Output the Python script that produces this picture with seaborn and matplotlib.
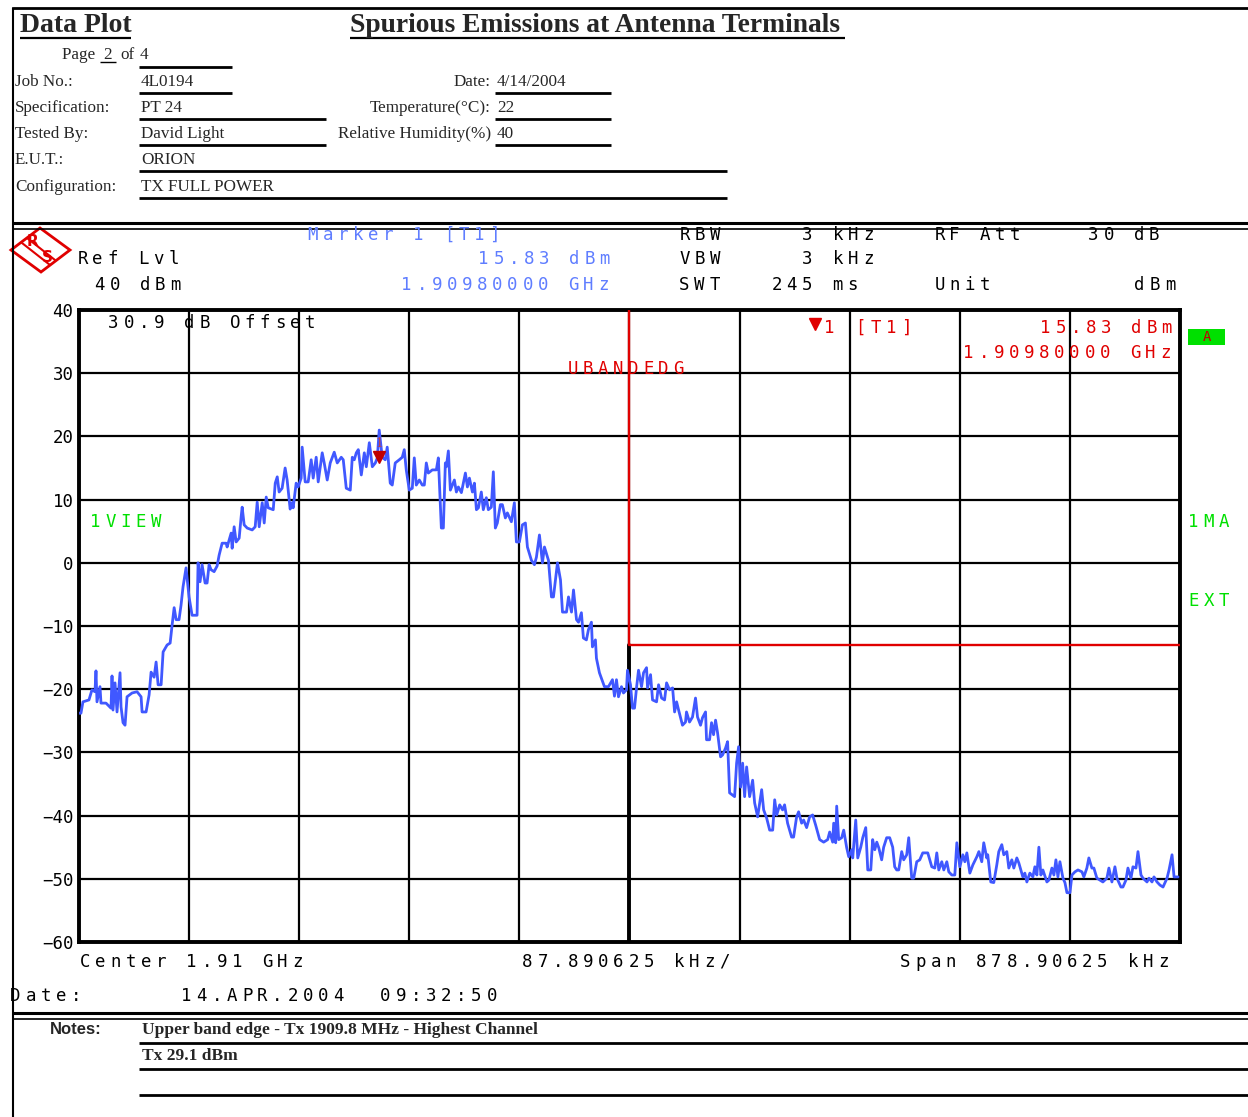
import matplotlib
matplotlib.use("Agg")
import matplotlib.pyplot as plt
import matplotlib.transforms as mtransforms
from matplotlib.patches import Polygon, Rectangle
import seaborn as sns

# ── data ─────────────────────────────────────────────────────────────────────
CENTER_GHZ = 1.91
SPAN_KHZ = 878.90625
REF_LVL_DBM = 40
LIMIT_DBM = -13            # FCC -13 dBm line, starts at the band edge
BAND_EDGE_KHZ = 0.0        # band edge = center frequency
MARKER_KHZ = -200.0        # 1.9098 GHz
MARKER_DBM = 15.83

y_ticks = [40, 30, 20, 10, 0, -10, -20, -30, -40, -50, -60]

freq_khz = [
    -439.5, -437.9, -436.3, -431.5, -429.1, -426.7, -425.9, -425.1, -422.7, -421.9,
    -417.9, -413.9, -413.1, -412.3, -410.7, -409.1, -406.7, -405.9, -404.3, -402.7,
    -401.1, -397.1, -393.1, -389.9, -389.1, -385.9, -383.5, -381.9, -379.5, -377.9,
    -376.3, -373.9, -372.3, -369.1, -366.7, -365.1, -363.5, -361.9, -359.6, -358.0,
    -356.4, -354.0, -351.6, -349.2, -345.2, -344.4, -342.8, -341.2, -338.8, -337.2,
    -335.6, -334.0, -331.6, -329.2, -327.6, -325.2, -322.0, -321.2, -318.0, -317.2,
    -315.6, -314.0, -311.6, -310.0, -309.2, -307.6, -305.2, -301.2, -298.8, -297.2,
    -295.6, -293.2, -291.6, -290.0, -288.4, -284.4, -282.8, -281.2, -279.7, -277.3,
    -274.9, -273.3, -270.9, -269.3, -268.5, -266.1, -264.5, -262.1, -261.3, -258.9,
    -256.5, -254.1, -252.5, -250.1, -248.5, -245.3, -243.7, -241.3, -238.9, -235.7,
    -233.3, -230.1, -228.5, -226.1, -222.9, -221.3, -219.7, -218.1, -216.5, -214.1,
    -211.7, -210.1, -207.7, -205.3, -202.9, -201.3, -199.8, -197.4, -195.0, -193.4,
    -191.0, -189.4, -187.0, -183.8, -181.4, -179.8, -178.2, -175.8, -173.4, -171.8,
    -170.2, -167.8, -165.4, -163.8, -162.2, -160.6, -157.4, -154.2, -152.6, -150.2,
    -148.6, -147.0, -146.2, -144.6, -143.0, -139.8, -138.2, -136.6, -134.2, -131.0,
    -129.4, -127.8, -125.4, -123.8, -122.2, -120.6, -118.3, -116.7, -114.3, -112.7,
    -110.3, -108.7, -107.1, -105.5, -103.1, -101.5, -99.1, -97.5, -94.3, -91.9,
    -90.3, -87.9, -85.5, -83.1, -81.5, -78.3, -75.9, -74.3, -71.9, -69.5,
    -67.9, -64.7, -62.3, -60.7, -57.5, -55.1, -53.5, -50.3, -48.7, -46.3,
    -44.7, -42.3, -40.7, -38.4, -36.8, -34.4, -32.8, -30.4, -29.6, -27.2,
    -26.4, -24.0, -20.0, -16.8, -13.6, -12.0, -10.4, -8.8, -6.4, -4.8,
    -2.4, -1.6, 0.8, 2.4, 4.0, 5.6, 7.2, 9.6, 11.2, 13.6,
    14.4, 16.8, 18.4, 21.6, 23.2, 25.6, 28.0, 29.6, 32.0, 34.4,
    36.0, 37.6, 39.2, 42.3, 44.7, 45.5, 47.9, 50.3, 52.7, 54.3,
    56.7, 58.3, 60.7, 61.5, 63.9, 65.5, 67.1, 68.7, 70.3, 72.7,
    74.3, 76.7, 78.3, 79.9, 83.9, 85.5, 87.1, 88.7, 90.3, 91.9,
    93.5, 95.9, 98.3, 99.9, 102.3, 105.5, 107.1, 109.5, 111.9, 114.3,
    115.9, 117.5, 119.9, 122.2, 123.8, 126.2, 129.4, 131.0, 133.4, 135.0,
    137.4, 139.0, 141.4, 143.8, 146.2, 148.6, 151.8, 155.0, 158.2, 159.8,
    162.2, 163.0, 164.6, 165.4, 167.0, 169.4, 171.0, 173.4, 175.0, 177.4,
    178.2, 180.6, 182.2, 184.6, 186.2, 188.6, 190.2, 192.6, 194.1, 195.8,
    197.4, 199.0, 201.3, 202.9, 205.3, 207.7, 210.1, 211.7, 213.3, 214.9,
    217.3, 218.9, 221.3, 222.9, 225.3, 226.9, 229.3, 231.7, 234.1, 238.1,
    241.3, 243.7, 245.3, 246.9, 249.3, 250.9, 253.3, 254.9, 257.3, 259.7,
    261.3, 263.7, 266.1, 267.7, 269.3, 271.7, 274.1, 277.3, 278.9, 281.2,
    282.8, 285.2, 286.0, 288.4, 290.8, 293.2, 294.8, 297.2, 298.8, 301.2,
    302.8, 305.2, 306.8, 309.2, 310.8, 314.0, 315.6, 317.2, 319.6, 322.0,
    323.6, 325.2, 326.8, 328.4, 330.0, 333.2, 334.8, 337.2, 338.8, 340.4,
    342.0, 343.6, 346.0, 347.6, 349.2, 351.6, 353.2, 355.6, 358.0, 361.2,
    362.7, 365.1, 366.7, 369.1, 370.7, 373.1, 375.5, 377.9, 381.1, 382.7,
    385.1, 387.5, 389.1, 392.3, 393.9, 396.3, 397.9, 400.3, 401.9, 404.3,
    405.9, 408.3, 409.9, 413.1, 414.7, 417.1, 418.7, 421.1, 423.5, 425.9,
    429.1, 430.7, 433.1, 434.7, 437.9,
]

level_dbm = [
    -23.8, -23.8, -22.0, -21.7, -20.1, -20.4, -17.1, -22.0, -19.6, -22.2,
    -22.2, -23.0, -17.9, -23.3, -19.0, -23.6, -17.4, -22.8, -25.3, -25.7,
    -21.2, -20.6, -20.4, -21.2, -23.6, -23.6, -20.9, -17.3, -18.1, -15.7,
    -19.3, -19.3, -14.1, -13.0, -12.7, -9.8, -7.1, -9.0, -9.0, -6.7,
    -3.8, -0.8, -5.4, -8.3, -8.3, 0.0, -3.0, -0.3, -3.2, -3.2,
    -0.3, -1.1, -1.4, -0.5, 1.2, 3.1, 3.1, 2.5, 4.7, 2.3,
    5.7, 3.3, 3.9, 7.3, 8.8, 6.0, 5.5, 5.2, 5.7, 9.6,
    5.7, 9.5, 6.3, 10.4, 8.7, 8.4, 12.6, 13.6, 11.2, 11.8,
    15.0, 13.1, 8.5, 9.5, 8.7, 12.6, 12.0, 13.4, 18.3, 12.8,
    12.8, 16.3, 13.4, 16.7, 12.8, 17.4, 15.8, 13.1, 15.8, 17.5,
    15.8, 16.7, 16.3, 11.8, 11.5, 16.7, 16.3, 17.4, 17.9, 13.9,
    17.4, 15.2, 19.0, 15.2, 15.8, 16.6, 21.0, 16.7, 16.3, 18.3,
    12.6, 12.3, 15.8, 16.3, 16.7, 17.9, 14.7, 11.5, 11.8, 16.6,
    12.3, 13.1, 12.3, 12.3, 15.8, 14.2, 14.7, 14.7, 16.6, 5.5,
    5.5, 15.8, 15.2, 17.7, 11.5, 13.1, 11.2, 12.0, 11.1, 14.2,
    12.0, 13.4, 11.2, 12.6, 8.4, 8.7, 11.2, 8.4, 10.3, 8.4,
    8.8, 14.4, 5.5, 6.3, 9.2, 9.2, 7.1, 7.9, 6.5, 9.5,
    3.3, 3.3, 6.0, 6.3, 2.5, 0.4, -0.3, 0.9, 4.4, 0.0,
    2.5, 0.4, -5.4, -5.4, 0.0, -2.7, -7.8, -7.8, -5.4, -7.8,
    -4.3, -9.0, -9.4, -7.9, -11.9, -12.2, -10.6, -9.4, -13.3, -12.2,
    -15.1, -17.4, -19.6, -19.6, -18.5, -21.1, -18.5, -21.2, -19.6, -20.6,
    -20.1, -17.0, -19.3, -23.0, -23.0, -19.8, -17.0, -19.6, -17.4, -16.6,
    -19.8, -17.7, -21.7, -22.0, -19.3, -21.4, -21.7, -19.0, -20.1, -19.8,
    -23.6, -22.0, -23.3, -25.7, -25.2, -23.6, -25.2, -24.4, -21.4, -24.4,
    -25.7, -24.5, -23.6, -28.0, -28.0, -25.3, -27.2, -24.9, -26.9, -30.7,
    -30.4, -29.3, -28.3, -36.4, -37.0, -31.7, -29.1, -35.5, -31.7, -37.0,
    -32.3, -37.0, -34.4, -38.0, -40.2, -35.9, -39.1, -40.4, -42.3, -42.3,
    -37.5, -39.9, -38.3, -39.1, -38.3, -41.2, -43.4, -43.4, -40.2, -39.4,
    -41.2, -40.7, -41.9, -40.2, -39.9, -41.5, -43.8, -44.2, -43.8, -42.6,
    -44.2, -41.2, -44.3, -38.5, -43.8, -43.5, -42.3, -45.1, -46.5, -45.4,
    -46.7, -40.7, -46.7, -45.0, -43.5, -41.9, -48.6, -48.6, -43.8, -45.4,
    -44.2, -45.1, -47.0, -45.0, -43.5, -43.5, -45.0, -48.1, -48.6, -48.6,
    -45.7, -47.0, -46.2, -43.5, -49.9, -49.9, -47.3, -47.0, -45.9, -45.9,
    -48.1, -48.3, -45.9, -48.6, -47.3, -48.6, -47.3, -48.9, -49.4, -49.4,
    -44.3, -48.1, -46.2, -47.3, -45.9, -49.1, -47.8, -46.5, -45.7, -47.3,
    -44.3, -46.7, -46.2, -50.5, -50.6, -47.8, -45.7, -44.6, -46.2, -45.7,
    -48.3, -47.0, -48.3, -46.7, -47.5, -49.7, -49.1, -50.5, -49.1, -49.7,
    -48.1, -49.4, -45.0, -49.4, -48.6, -50.5, -50.2, -48.3, -49.4, -47.0,
    -49.7, -47.3, -49.9, -50.6, -52.2, -52.2, -49.4, -48.9, -48.6, -48.9,
    -49.7, -48.3, -46.7, -48.3, -48.3, -49.9, -50.2, -50.5, -49.9, -48.3,
    -50.5, -48.1, -49.9, -51.3, -51.3, -50.2, -48.3, -49.9, -48.1, -48.3,
    -45.7, -49.4, -49.9, -50.5, -49.9, -50.5, -49.7, -50.5, -51.0, -51.3,
    -49.9, -48.6, -46.2, -49.7, -49.7,
]

# ── styling ───────────────────────────────────────────────────────────────────
sns.set_style("white")
plt.rcParams["font.family"] = ["Liberation Serif", "DejaVu Sans"]

TRACE = "#4058ff"
MBLUE = "#5f7dff"
RED = "#e00000"
GREEN = "#00e000"
W, H = 1248, 1117

fig = plt.figure(figsize=(W / 100, H / 100), dpi=100)

# page overlay in pixel coordinates (y down)
bg = fig.add_axes([0, 0, 1, 1])
bg.set_xlim(0, W)
bg.set_ylim(H, 0)
bg.set_axis_off()
bg.set_zorder(3)

# spectrum axes
ax = fig.add_axes([79 / W, (H - 942) / H, 1101 / W, 632 / H])
half = SPAN_KHZ / 2
sns.lineplot(x=freq_khz, y=level_dbm, ax=ax, color=TRACE, lw=2.0,
             sort=False, estimator=None, zorder=4)
ax.set_xlim(-half, half)
ax.set_ylim(min(y_ticks), max(y_ticks))
ax.set_xticks([-half + i * SPAN_KHZ / 10 for i in range(11)])
ax.set_xticklabels([])
ax.set_yticks(y_ticks)
ax.tick_params(length=0)
ax.tick_params(axis="y", pad=4, labelsize=12.5, colors="black")
for lbl in ax.get_yticklabels():
    lbl.set_fontfamily("DejaVu Sans Mono")
ax.grid(True, color="black", lw=1.6)
for sp in ax.spines.values():
    sp.set_color("black")
    sp.set_linewidth(2.8)
ax.set_xlabel("")
ax.set_ylabel("")

# limit line (band edge down to -13 dBm, then across)
ax.plot([BAND_EDGE_KHZ, BAND_EDGE_KHZ], [min(y_ticks), LIMIT_DBM], color="black", lw=2.8, zorder=3)
ax.plot([BAND_EDGE_KHZ, BAND_EDGE_KHZ, half], [REF_LVL_DBM, LIMIT_DBM, LIMIT_DBM],
        color=RED, lw=1.7, zorder=5)

# marker 1
up = mtransforms.offset_copy(ax.transData, fig=fig, y=6, units="dots")
ax.plot([MARKER_KHZ], [MARKER_DBM], marker="v", ms=9, color="#c00000", transform=up, zorder=6)
lab = mtransforms.offset_copy(ax.transData, fig=fig, y=19, units="dots")
ax.text(MARKER_KHZ, MARKER_DBM, "1", transform=lab, color="#c84040",
        fontsize=10, ha="center", va="center", zorder=6)


def rs(x, y, s, color="black", adv=15.15, size=12.5):
    # analyser screen font: fixed cell width, one glyph per cell
    for i, ch in enumerate(s):
        if ch != " ":
            bg.text(x + i * adv + adv / 2, y, ch, ha="center", va="center",
                    family="DejaVu Sans Mono", fontsize=size, color=color)


def hline(y, x0, x1, lw=1.5, color="black"):
    bg.plot([x0, x1], [y, y], color=color, lw=lw, solid_capstyle="butt")


# ── header form ──────────────────────────────────────────────────────────────
hline(8, 13, W, lw=2)
bg.plot([13, 13], [8, H], color="black", lw=1.5)
hline(223, 13, W, lw=2.2)
hline(229, 13, W, lw=1.2)
hline(1013, 13, W, lw=2.2)
hline(1019, 13, W, lw=1.2)

bg.text(20, 25, "Data Plot", fontsize=20, fontweight="bold", va="center")
hline(38, 20, 131, lw=1.6)
bg.text(350, 25, "Spurious Emissions at Antenna Terminals", fontsize=19.8,
        fontweight="bold", va="center")
hline(38, 350, 845, lw=1.6)

fs = 12.3
bg.text(62, 55, "Page ", fontsize=fs, va="center")
bg.text(103, 55, "2", fontsize=fs, va="center")
hline(62, 100, 116, lw=1)
bg.text(120, 55, "of", fontsize=fs, va="center")
bg.text(140, 55, "4", fontsize=fs, va="center")
hline(67, 139, 232, lw=2)

left_rows = [("Job No.:", "4L0194", 82, 232), ("Specification:", "PT 24", 108, 326),
             ("Tested By:", "David Light", 134, 326), ("E.U.T.:", "ORION", 160, 727),
             ("Configuration:", "TX FULL POWER", 187, 727)]
for name, val, y, x1 in left_rows:
    bg.text(15, y, name, fontsize=fs, va="center")
    bg.text(141, y, val, fontsize=fs, va="center")
    hline(y + 11, 139, x1, lw=2)

right_rows = [("Date:", "4/14/2004", 82), ("Temperature(\u00b0C):", "22", 108),
              ("Relative Humidity(%)", "40", 134)]
for name, val, y in right_rows:
    bg.text(491, y, name, fontsize=fs, va="center", ha="right")
    bg.text(497, y, val, fontsize=fs, va="center")
    hline(y + 11, 495, 611, lw=2)

# ── analyser screen texts ────────────────────────────────────────────────────
logo = Polygon([[11, 250], [40, 228], [70, 250], [41, 272]], closed=True,
               fill=False, edgecolor=RED, lw=2)
bg.add_patch(logo)
bg.plot([27, 55], [238, 260], color=RED, lw=1.5)
bg.plot([22, 50], [243, 265], color=RED, lw=1.5)
bg.text(33, 241, "R", color=RED, fontsize=11, fontweight="bold", family="DejaVu Sans",
        ha="center", va="center")
bg.text(47, 258, "S", color=RED, fontsize=11, fontweight="bold", family="DejaVu Sans",
        ha="center", va="center")

rs(305, 235, "Marker 1 [T1]", MBLUE)
rs(75, 259, "Ref Lvl")
rs(476, 259, "15.83 dBm", MBLUE)
rs(92, 285, "40 dBm")
rs(399, 285, "1.90980000 GHz", MBLUE)
rs(677, 235, "RBW")
rs(800, 235, "3 kHz")
rs(932, 235, "RF Att")
rs(1086, 235, "30 dB")
rs(677, 259, "VBW")
rs(800, 259, "3 kHz")
rs(677, 285, "SWT")
rs(769, 285, "245 ms")
rs(932, 285, "Unit")
rs(1132, 285, "dBm")

rs(106, 323, "30.9 dB Offset")
rs(565, 369, "UBANDEDG", RED)
bg.plot([815], [324], marker="v", ms=8, color=RED)
rs(822, 328, "1", RED)
rs(853, 328, "[T1]", RED)
rs(1038, 328, "15.83 dBm", RED)
rs(961, 353, "1.90980000 GHz", RED)

bg.add_patch(Rectangle((1188, 329), 37, 16, facecolor=GREEN, edgecolor="none"))
bg.text(1207, 337, "A", color="#c00000", fontsize=10, family="DejaVu Sans Mono",
        ha="center", va="center")
rs(88, 522, "1VIEW", GREEN)
rs(1186, 522, "1MA", GREEN)
rs(1186, 601, "EXT", GREEN)

rs(78, 962, "Center 1.91 GHz")
rs(520, 962, "87.890625 kHz/")
rs(898, 962, "Span 878.90625 kHz")
rs(8, 996, "Date:")
rs(179, 996, "14.APR.2004")
rs(378, 996, "09:32:50")

# ── notes ────────────────────────────────────────────────────────────────────
bg.text(50, 1030, "Notes:", fontsize=12, fontweight="bold", va="center",
        family="Liberation Sans")
bg.text(142, 1030, "Upper band edge - Tx 1909.8 MHz - Highest Channel", fontsize=12.5,
        fontweight="bold", va="center")
hline(1043, 139, W, lw=2)
bg.text(142, 1056, "Tx 29.1 dBm", fontsize=12.5, fontweight="bold", va="center")
hline(1069, 139, W, lw=2)
hline(1095, 139, W, lw=2)

plt.savefig("out.png", dpi=100)
plt.close()
